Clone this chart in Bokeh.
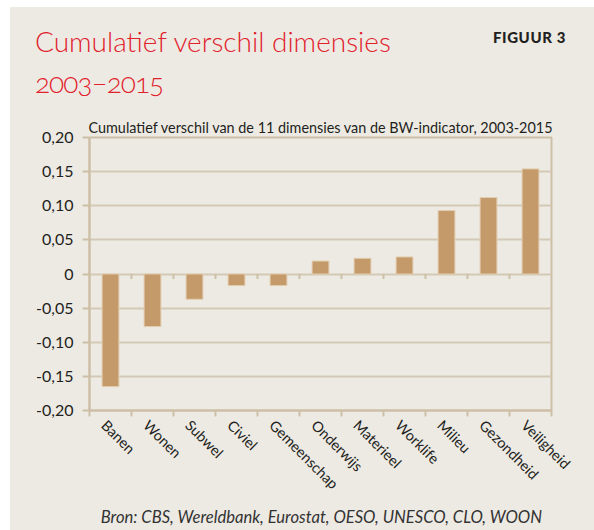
import math
from bokeh.plotting import figure
from bokeh.layouts import column, row
from bokeh.models import (Range1d, FixedTicker, CustomJSTickFormatter,
                          ColumnDataSource, Spacer, Div, Title)
from bokeh.embed import file_html
from bokeh.resources import INLINE

categories = ["Banen", "Wonen", "Subwel", "Civiel", "Gemeenschap", "Onderwijs",
              "Materieel", "Worklife", "Milieu", "Gezondheid", "Veiligheid"]
values = [-0.165, -0.077, -0.037, -0.017, -0.017, 0.019, 0.023, 0.025, 0.093, 0.112, 0.154]
y_ticks = [-0.20, -0.15, -0.10, -0.05, 0.0, 0.05, 0.10, 0.15, 0.20]

title_line1 = "Cumulatief verschil dimensies"
title_line2 = "2003\u20132015"
figure_tag = "FIGUUR 3"
subtitle = "Cumulatief verschil van de 11 dimensies van de BW-indicator, 2003-2015"
source_note = "Bron: CBS, Wereldbank, Eurostat, OESO, UNESCO, CLO, WOON"

BG = "#EDEAE4"
BAR = "#C49A6A"
GRID = "#D3C9B6"
AXIS = "#CDBFA6"
RED = "#E1212B"
DARK = "#231F20"
FONT = "Lato"

W = 584
HEAD_H = 100
FOOT_H = 25
H = 398
FL, FR, FT, FB = 79, 541, 30, 303  # frame edges inside the figure canvas
YMIN, YMAX = -0.2, 0.2
LABEL_SHIFT = 0.15  # horizontal nudge of rotated category labels

n = len(categories)
centers = [i + 0.5 for i in range(n)]
bounds = [float(i) for i in range(n + 1)]
label_pos = [c - LABEL_SHIFT for c in centers]

p = figure(width=W, height=H, output_backend="svg", toolbar_location=None,
           x_range=Range1d(0, n), y_range=Range1d(YMIN, YMAX),
           min_border_left=FL, min_border_right=W - FR,
           min_border_top=FT, min_border_bottom=H - FB, margin=(0, 0, 0, 0))
p.background_fill_color = BG
p.border_fill_color = BG
p.outline_line_color = AXIS
p.outline_line_width = 2

p.title = Title(text=subtitle, align="left", offset=-1, standoff=4,
                text_font=FONT, text_font_size="14.4px", text_font_style="normal",
                text_color=DARK)

src = ColumnDataSource(dict(x=centers, top=values, cat=categories))
p.vbar(x="x", top="top", bottom=0, width=0.4, source=src,
       fill_color=BAR, line_color="#E2CDAE", line_width=1)

# small tick marks on the zero line at category boundaries
p.segment(x0=bounds[1:-1], y0=[0] * (n - 1), x1=bounds[1:-1], y1=[-0.0075] * (n - 1),
          line_color=AXIS, line_width=2)

xa = p.xaxis[0]
xa.ticker = FixedTicker(ticks=label_pos, minor_ticks=bounds)
xa.major_label_overrides = {c: cat for c, cat in zip(label_pos, categories)}
xa.major_tick_line_color = None
xa.minor_tick_line_color = AXIS
xa.minor_tick_line_width = 2
xa.minor_tick_out = 6
xa.minor_tick_in = 0
xa.axis_line_color = AXIS
xa.axis_line_width = 2
xa.major_label_orientation = -math.pi / 4
xa.major_label_text_font = FONT
xa.major_label_text_font_size = "14.5px"
xa.major_label_text_color = DARK
xa.major_label_standoff = 6

ya = p.yaxis[0]
ya.ticker = FixedTicker(ticks=y_ticks)
ya.formatter = CustomJSTickFormatter(code="""
    if (Math.abs(tick) < 1e-9) return "0";
    return tick.toFixed(2).replace(".", ",");
""")
ya.major_tick_line_color = AXIS
ya.major_tick_line_width = 2
ya.major_tick_out = 7
ya.major_tick_in = 0
ya.minor_tick_line_color = None
ya.axis_line_color = AXIS
ya.axis_line_width = 2
ya.major_label_text_font = FONT
ya.major_label_text_font_size = "16px"
ya.major_label_text_color = DARK
ya.major_label_standoff = 9

p.xgrid.grid_line_color = None
p.ygrid.grid_line_color = GRID
p.ygrid.grid_line_width = 2


def span(text, left, baseline, size, color=DARK, weight="normal", style="normal",
         right=None, extra=""):
    top = baseline - 0.887 * size
    pos = f"left:{left}px;" if right is None else f"right:{right}px;"
    return (f'<div style="position:absolute;{pos}top:{top:.1f}px;font-family:{FONT};'
            f'font-size:{size}px;line-height:1;color:{color};font-weight:{weight};'
            f'font-style:{style};white-space:nowrap;{extra}">{text}</div>')


head_html = (
    f'<div style="position:relative;width:{W}px;height:{HEAD_H}px;background:{BG};">'
    + span(title_line1, 25, 45, 28, color=RED, weight="300")
    + span(title_line2, 25, 86, 28, color=RED, weight="300",
           extra="font-variant-numeric:oldstyle-nums;font-feature-settings:'onum' 1;"
                 "letter-spacing:-1px;")
    + span(figure_tag, 0, 36, 15, weight="900", right=W - 556,
           extra="letter-spacing:0.6px;")
    + '</div>'
)
foot_html = (
    f'<div style="position:relative;width:{W}px;height:{FOOT_H}px;background:{BG};">'
    + span(source_note, 0, 19, 16.6, color="#333333", style="italic", right=W - 532)
    + '</div>'
)

head = Div(text=head_html, width=W, height=HEAD_H, margin=(0, 0, 0, 0),
           styles={"background-color": BG})
foot = Div(text=foot_html, width=W, height=FOOT_H, margin=(0, 0, 0, 0),
           styles={"background-color": BG})

inner = column(head, p, foot, spacing=0, styles={"background-color": BG})
layout = column(Spacer(height=7), row(Spacer(width=10), inner, spacing=0), spacing=0)
open("out.html", "w").write(file_html(layout, INLINE))
